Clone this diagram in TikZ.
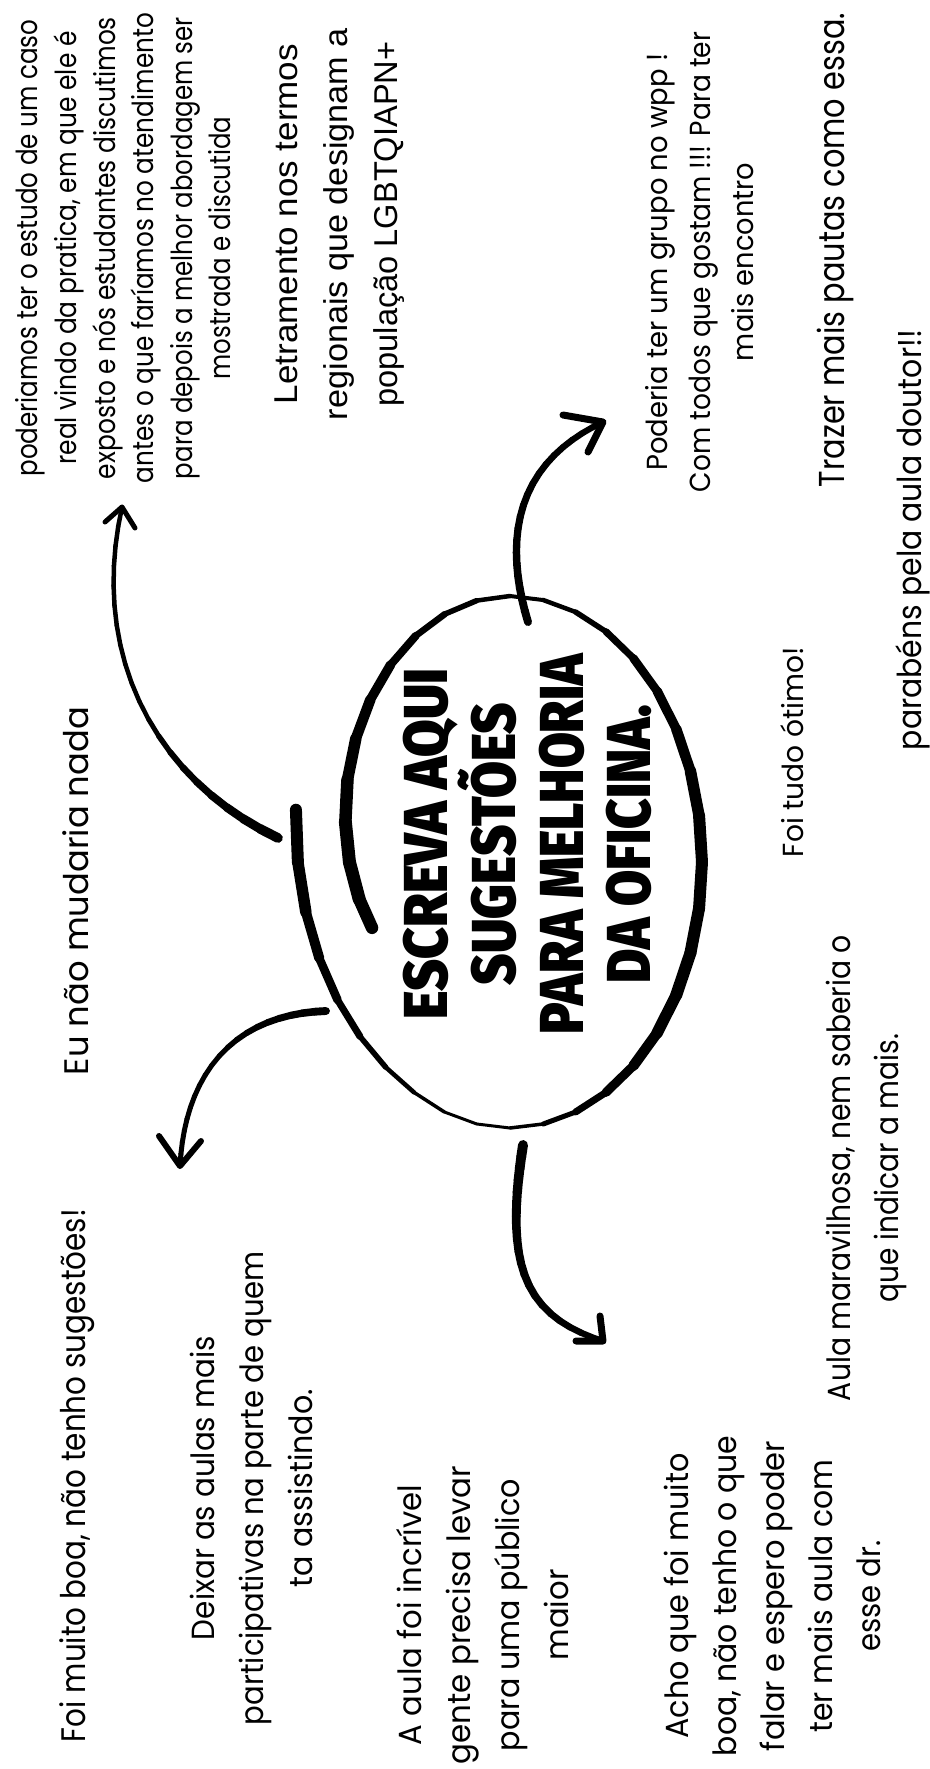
\documentclass[tikz,border=0pt]{standalone}
\usepackage{fontspec}
\usepackage{graphicx}
\usetikzlibrary{decorations.markings}
\newfontfamily\qsf{Poppins}
\newfontfamily\arlf{Liberation Sans}
\newfontfamily\firaf{Fira Sans}
\IfFontExistsTF{Fira Sans Black}{\newfontfamily\ttlf{Fira Sans Black}}{%
  \IfFontExistsTF{Fira Sans ExtraBold}{\newfontfamily\ttlf{Fira Sans ExtraBold}}{\newcommand\ttlf{\firaf\bfseries}}}
\newlength\pxu
\setlength\pxu{0.5pt}
\newcommand\fitl[2]{\resizebox{#1\pxu}{\height}{#2}}
% tapered stroke through sampled points #1<i>, ending at #1E
\newcommand\taperseg[4]{%
  \foreach \i in {1,...,19}{%
    \pgfmathtruncatemacro\j{\i+1}%
    \pgfmathsetmacro\lw{(#3+(#2-#3)*max(0,1-((\i-0.5)/20)/#4))/2}%
    \draw[line width=\lw pt] (#1\i) -- (#1\j);
  }%
  \pgfmathsetmacro\lw{(#3+(#2-#3)*max(0,1-(19.5/20)/#4))/2}%
  \draw[line width=\lw pt] (#120) -- (#1E);
}
\begin{document}
\lineskiplimit=-1000pt
\begin{tikzpicture}[x=0.5pt,y=0.5pt,line cap=round,line join=round,
  declare function={nn(\q)=max(0,\q-90)/109; mm(\q)=max(0,-120-\q)/71;
    rr(\q)=1-0.24*nn(\q)*nn(\q)+0.135*mm(\q)*sqrt(mm(\q));
    ex(\q)=510+rr(\q)*192*cos(\q); ey(\q)=-862+rr(\q)*266*sin(\q);},
  txt/.style={rotate=90, inner sep=0pt, align=center, text=black},
  qs/.style 2 args={txt, font=\qsf\fontsize{#1}{#2}\selectfont},
  ar/.style 2 args={txt, font=\arlf\fontsize{#1}{#2}\selectfont},
  ttl/.style={rotate=90, inner sep=0pt, anchor=base, text=black, font=\ttlf\fontsize{31pt}{34pt}\selectfont},
  samp/.style={decorate, decoration={markings,
     mark=between positions 0 and 1 step 0.05 with {\coordinate (#1\pgfkeysvalueof{/pgf/decoration/mark info/sequence number});}}},
  head/.style={line width=#1}]
\useasboundingbox (0,0) rectangle (930,-1769);
\fill[white] (0,0) rectangle (930,-1769);

% ---------- texts ----------
\node[qs={14.5pt}{19.3pt}] (tl) at (123.5,-248) {%
 \fitl{457}{poderiamos ter o estudo de um caso}\\
 \fitl{433}{real vindo da pratica, em que ele é}\\
 \fitl{462}{exposto e nós estudantes discutimos}\\
 \fitl{470}{antes o que faríamos no atendimento}\\
 \fitl{462}{para depois a melhor abordagem ser}\\
 \fitl{263}{mostrada e discutida}};
\node[ar={16.5pt}{25pt}] (letr) at (340,-224) {%
 \fitl{360}{Letramento nos termos}\\
 \fitl{392}{regionais que designam a}\\
 \fitl{365}{população LGBTQIAPN+}};
\node[qs={14.5pt}{21.5pt}] (grupo) at (699.5,-262) {%
 \fitl{417}{Poderia ter um grupo no wpp !}\\
 \fitl{460}{Com todos que gostam !!! Para ter}\\
 \fitl{198}{mais encontro}};
\node[qs={18pt}{24pt}] (trazer) at (835,-250) {\fitl{474}{Trazer mais pautas como essa.}};
\node[qs={16.5pt}{24pt}] (parab) at (913,-540) {\fitl{420}{parabéns pela aula doutor!!}};
\node[qs={14.5pt}{20pt}] (otimo) at (792,-752) {\fitl{210}{Foi tudo ótimo!}};
\node[qs={16pt}{24pt}] (marav) at (866,-1168) {%
 \fitl{466}{Aula maravilhosa, nem saberia o}\\
 \fitl{268}{que indicar a mais.}};
\node[qs={17pt}{24pt}] (mudaria) at (76,-891) {\fitl{368}{Eu não mudaria nada}};
\node[qs={17pt}{24pt}] (foimuito) at (77,-1475.5) {\fitl{533}{Foi muito boa, não tenho sugestões!}};
\node[qs={16pt}{24.5pt}] (deixar) at (251,-1488) {%
 \fitl{304}{Deixar as aulas mais}\\
 \fitl{474}{participativas na parte de quem}\\
 \fitl{198}{ta assistindo.}};
\node[qs={16pt}{24.5pt}] (incrivel) at (483,-1615) {%
 \fitl{260}{A aula foi incrível}\\
 \fitl{298}{gente precisa levar}\\
 \fitl{272}{para uma público}\\
 \fitl{91}{maior}};
\node[qs={16pt}{24pt}] (acho) at (772.5,-1596) {%
 \fitl{285}{Acho que foi muito}\\
 \fitl{320}{boa, não tenho o que}\\
 \fitl{310}{falar e espero poder}\\
 \fitl{273}{ter mais aula com}\\
 \fitl{111}{esse dr.}};
% title, one node per line, placed by baseline
\node[ttl] (title1) at (447,-844) {\fitl{350}{ESCREVA AQUI}};
\node[ttl] (title2) at (515,-844) {\fitl{282}{SUGESTÕES}};
\node[ttl] (title3) at (583,-844) {\fitl{380}{PARA MELHORIA}};
\node[ttl] (title4) at (650,-844) {\fitl{278}{DA OFICINA.}};

% ---------- hand-drawn ellipse (open spiral stroke) ----------
\coordinate (ell) at (510,-862);
\foreach \a/\w [remember=\a as \pa (initially 199), remember=\w as \pw (initially 12)] in
 {190/13,180/13,170/13,160/12,150/11,140/10,130/9,120/7,110/6,100/5,90/4,80/4,70/5,60/6,
  50/8,40/9,30/10,20/11,10/12,0/12,-10/12,-20/12,-30/12,-40/11,-50/10,-60/8,-70/6,-80/4,
  -90/3,-100/3,-110/3,-120/4,-130/5,-140/6,-150/8,-160/9,-170/11,-180/12,-190/12}{
  \pgfmathsetmacro\lw{(\pw+\w)/4}
  \draw[line width=\lw pt] ({ex(\pa)},{ey(\pa)}) -- ({ex(\a)},{ey(\a)});
}

% ---------- arrows ----------
% upper left
\coordinate (ulS) at (278,-838); \coordinate (ulA) at (160,-782);
\coordinate (ulB) at (88,-660);  \coordinate (ulE) at (122,-507);
\coordinate (ulW1) at (105,-522); \coordinate (ulW2) at (135,-528);
\path[samp=ul] (ulS) .. controls (ulA) and (ulB) .. (ulE);
\taperseg{ul}{10}{4.5}{0.45}
\draw[head=2.5pt] (ulW1) -- (ulE) -- (ulW2);
% upper right
\coordinate (urS) at (528,-622); \coordinate (urA) at (500,-530);
\coordinate (urB) at (522,-460); \coordinate (urE) at (603,-422);
\coordinate (urW1) at (563,-415); \coordinate (urW2) at (588,-452);
\path[samp=ur] (urS) .. controls (urA) and (urB) .. (urE);
\taperseg{ur}{8}{6}{1}
\draw[head=3.5pt] (urW1) -- (urE) -- (urW2);
% lower left
\coordinate (llS) at (326,-1011); \coordinate (llA) at (236,-1014);
\coordinate (llB) at (185,-1071); \coordinate (llE) at (180,-1166);
\coordinate (llW1) at (159,-1136); \coordinate (llW2) at (201,-1141);
\path[samp=ll] (llS) .. controls (llA) and (llB) .. (llE);
\taperseg{ll}{8}{5}{0.5}
\draw[head=3pt] (llW1) -- (llE) -- (llW2);
% lower right
\coordinate (lrS) at (523,-1145); \coordinate (lrA) at (505,-1260);
\coordinate (lrB) at (520,-1315); \coordinate (lrE) at (603,-1341);
\coordinate (lrW1) at (576,-1341); \coordinate (lrW2) at (600,-1316);
\path[samp=lr] (lrS) .. controls (lrA) and (lrB) .. (lrE);
\taperseg{lr}{10}{6}{1}
\draw[head=3.5pt] (lrW1) -- (lrE) -- (lrW2);
\end{tikzpicture}
\end{document}
